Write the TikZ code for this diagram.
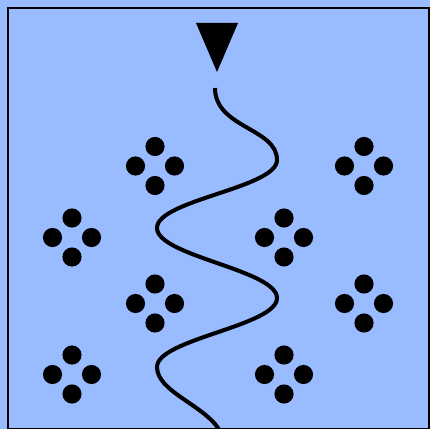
\documentclass[tikz,border=0pt]{standalone}
\usepackage{tikz}
\usepackage{xcolor}
\definecolor{Sky}{HTML}{99BBFF}
\definecolor{Ink}{HTML}{000000}

\begin{document}
\begin{tikzpicture}[x=0.02cm,y=-0.02cm,
  dot/.style={fill=Ink},
  wave/.style={draw=Ink,line width=2.3pt}]
\useasboundingbox (0,0) rectangle (430,429);
\fill[Sky] (0,0) rectangle (430,429);
\draw[Ink,line width=1.7pt] (8,8) rectangle (429.5,429.5);
% marker at the top
\fill[Ink] (196,23) -- (238,23) -- (217,72) -- cycle;
% clusters of four
\foreach \cx/\cy in {155/166,364/166,72/237.5,284/237.5,155/303.5,364/303.5,72/374.5,284/374.5}
  \foreach \dx/\dy in {0/-19.5,-19.5/0,19.5/0,0/19.5}
    \fill[dot] (\cx+\dx,\cy+\dy) circle (9.6);
% the wavy path
\draw[wave] (215,88) .. controls (215,128) and (277,128) .. (277,160)
  .. controls (277,188) and (157,200) .. (157,228)
  .. controls (157,256) and (277,270) .. (277,298)
  .. controls (277,326) and (157,339) .. (157,367)
  .. controls (157,392) and (205,405) .. (220,431);
\end{tikzpicture}
\end{document}
